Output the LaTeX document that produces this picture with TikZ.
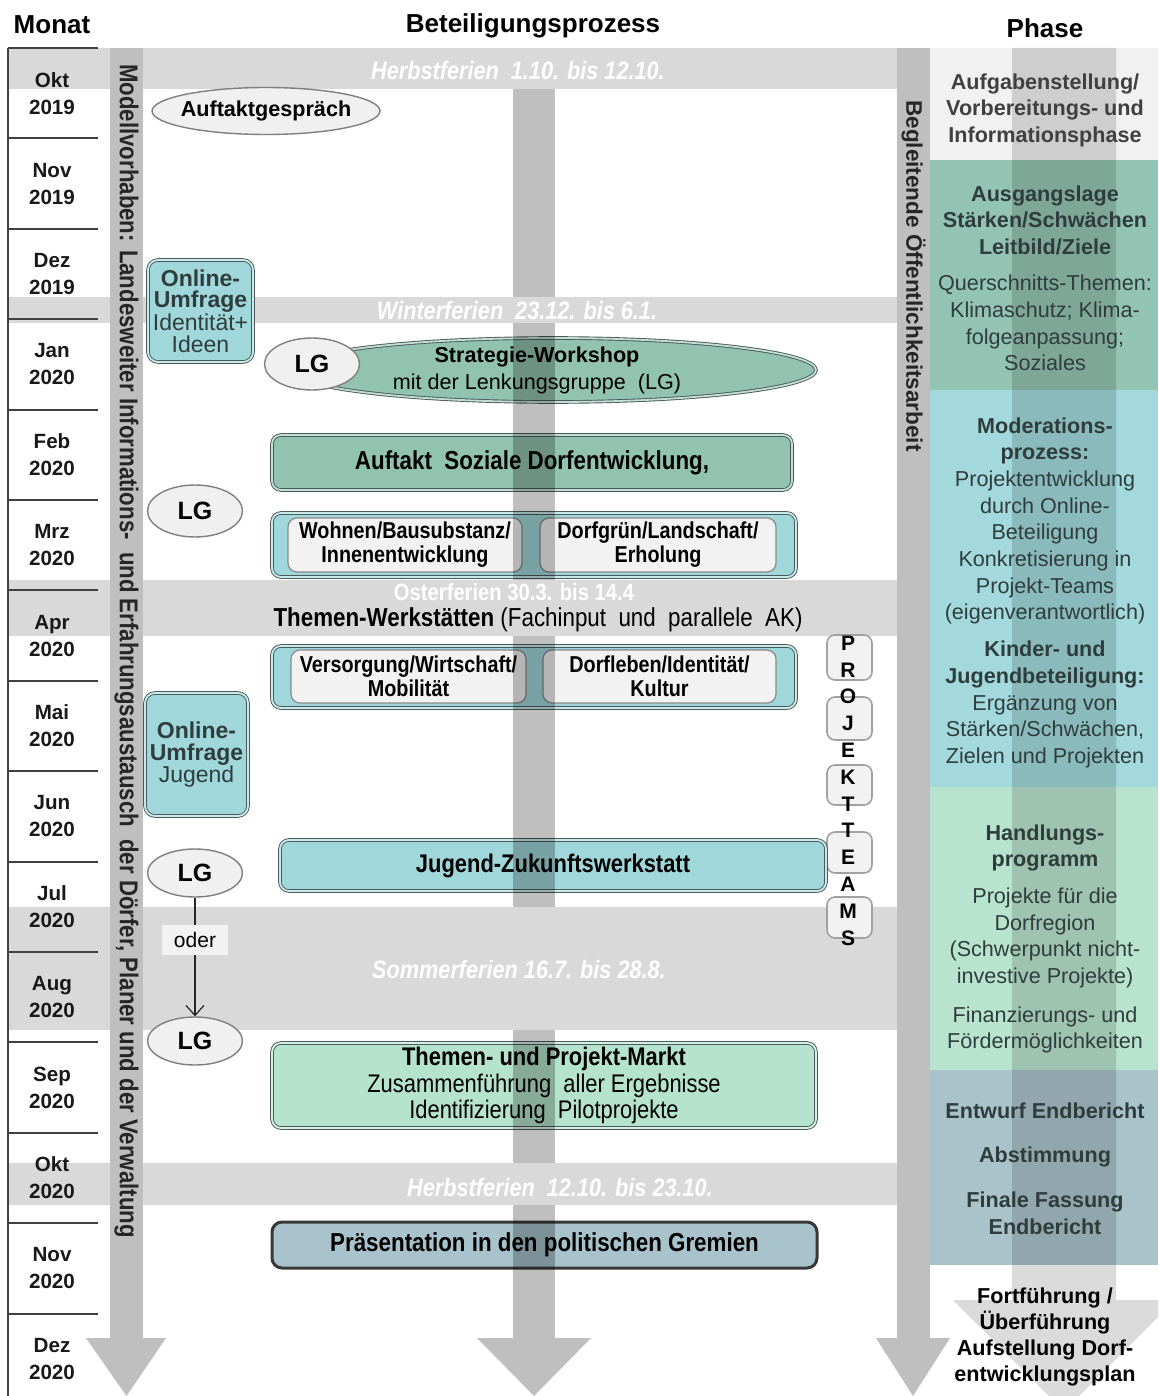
\documentclass[tikz,border=0pt]{standalone}
\usepackage{fontspec}
\setmainfont{Liberation Sans}
\newfontfamily\nrw[FakeStretch=0.86]{Liberation Sans}
\usetikzlibrary{shapes.geometric,arrows.meta}
\newcommand\myfs[2]{\fontsize{#1}{#2}\selectfont}
\definecolor{bandgray}{HTML}{D9D9D9}
\definecolor{colgray}{HTML}{BFBFBF}
\definecolor{ellfill}{HTML}{F0F0F0}
\definecolor{ellborder}{HTML}{7F7F7F}
\definecolor{tealgreen}{HTML}{92C3B1}
\definecolor{cyanfill}{HTML}{9FD7DA}
\definecolor{lightgreen}{HTML}{B6E3CD}
\definecolor{bluegray}{HTML}{A8C3CB}
\definecolor{boxborder}{HTML}{4A5A5A}
\definecolor{infill}{HTML}{F2F2F2}
\definecolor{inborder}{HTML}{8A8A8A}
\definecolor{phA}{HTML}{F1F1F1}
\definecolor{phB}{HTML}{93C3B2}
\definecolor{phC}{HTML}{A3D9DC}
\definecolor{phD}{HTML}{B8E4CF}
\definecolor{phE}{HTML}{AAC3CA}
\definecolor{phtext}{HTML}{2F3D3C}
\definecolor{mline}{HTML}{404040}
\begin{document}
\begin{tikzpicture}[x=0.5pt,y=-0.5pt,
  hdr/.style={font=\bfseries\myfs{13}{15}, inner sep=0pt},
  band/.style={fill=bandgray},
  colbar/.style={fill=colgray},
  midcol/.style={fill=black, opacity=0.25},
  phover/.style={fill=black, opacity=0.14},
  holtxt/.style={text=white, inner sep=0pt, font=\nrw\bfseries\itshape\myfs{12.6}{14}},
  monthlbl/.style={align=center, inner sep=0pt, text=black!90, font=\bfseries\myfs{10.3}{13.5}},
  monthline/.style={draw=mline, line width=1pt},
  phase/.style={align=center, anchor=north, inner sep=0pt, text=phtext, font=\myfs{10.8}{13.35}},
  lgell/.style={ellipse, draw=ellborder, fill=ellfill, line width=0.7pt, inner sep=0pt,
     minimum width=47.5pt, minimum height=26pt, font=\bfseries\myfs{12.5}{14}},
  dbl/.style={draw=boxborder, line width=0.45pt, double=#1!55!white, double distance=0.9pt,
     fill=#1, rounded corners=4.5pt, inner sep=0pt, align=center},
  inbox/.style={draw=inborder, fill=infill, rounded corners=4.5pt, line width=0.6pt,
     align=center, inner sep=0pt, font=\nrw\bfseries\myfs{11.5}{12}},
  ptbox/.style={draw=inborder!80, fill=infill, rounded corners=4pt, line width=0.8pt,
     minimum width=22.5pt, inner sep=0pt},
  ptletter/.style={inner sep=0pt, font=\bfseries\myfs{10.5}{12}},
  ortxt/.style={fill=infill, inner sep=0pt, minimum width=33pt, minimum height=15pt, font=\myfs{10.5}{12}}
]
\useasboundingbox (0,0) rectangle (1158,1396);
\fill[white] (0,0) rectangle (1158,1396);
\clip (0,0) rectangle (1158,1396);

% headers
\node[hdr] (hmonat) at (52,25) {Monat};
\node[hdr] (hbet) at (533,26) {Beteiligungsprozess};
\node[hdr] (hphase) at (1045,28) {Phase};

% holiday bands
\fill[band] (8,48) rectangle (930,89);
\fill[band] (8,297) rectangle (930,323);
\fill[band] (8,580) rectangle (930,636);
\fill[band] (8,907) rectangle (930,1030);
\fill[band] (8,1163) rectangle (930,1205);

\node[holtxt] (hf1) at (518,70) {Herbstferien\ \ 1.10. bis 12.10.};
\node[holtxt] (wf) at (517,310) {Winterferien\ \ 23.12. bis 6.1.};
\node[holtxt, font=\nrw\bfseries\myfs{11.75}{13}] (of) at (514,592) {Osterferien 30.3. bis 14.4};
\node[holtxt] (sf) at (519,969) {Sommerferien 16.7. bis 28.8.};
\node[holtxt] (hf2) at (560,1187) {Herbstferien\ \ 12.10. bis 23.10.};

% side columns
\fill[colbar] (110,48) rectangle (143,1338);
\fill[colbar] (86,1338) -- (166,1338) -- (126.5,1396) -- cycle;
\fill[colbar] (897,48) rectangle (930,1338);
\fill[colbar] (876,1338) -- (950,1338) -- (913,1396) -- cycle;

% phase column
\fill[phA] (930,48) rectangle (1158,160);
\fill[phB] (930,160) rectangle (1158,390);
\fill[phC] (930,390) rectangle (1158,787);
\fill[phD] (930,787) rectangle (1158,1070);
\fill[phE] (930,1070) rectangle (1158,1265);
\fill[phover] (1012,48) -- (1116,48) -- (1116,1300) -- (1175,1300) -- (1064,1411)
   -- (953,1300) -- (1012,1300) -- cycle;

\node[phase, text=black!75] (phA) at (1045,73)
  {\textbf{Aufgabenstellung/}\\\textbf{Vorbereitungs- und}\\\textbf{Informationsphase}};
\node[phase] (phB) at (1045,185)
  {\textbf{Ausgangslage}\\\textbf{Stärken/Schwächen}\\\textbf{Leitbild/Ziele}\\[4.75pt]
   Querschnitts-Themen:\\Klimaschutz; Klima-\\folgeanpassung;\\Soziales};
\node[phase] (phC) at (1045,417)
  {\textbf{Moderations-}\\\textbf{prozess:}\\Projektentwicklung\\durch Online-\\Beteiligung\\
   Konkretisierung in\\Projekt-Teams\\(eigenverantwortlich)\\[5pt]
   \textbf{Kinder- und}\\\textbf{Jugendbeteiligung:}\\Ergänzung von\\Stärken/Schwächen,\\Zielen und Projekten};
\node[phase] (phD) at (1045,824)
  {\textbf{Handlungs-}\\\textbf{programm}\\[5pt]Projekte für die\\Dorfregion\\(Schwerpunkt nicht-\\
   investive Projekte)\\[6pt]Finanzierungs- und\\Fördermöglichkeiten};
\node[phase] (phE) at (1045,1102)
  {\textbf{Entwurf Endbericht}\\[9pt]\textbf{Abstimmung}\\[9pt]\textbf{Finale Fassung}\\\textbf{Endbericht}};
\node[phase, text=black, font=\bfseries\myfs{10.8}{13.15}] (phF) at (1045,1287)
  {Fortführung /\\Überführung\\Aufstellung Dorf-\\entwicklungsplan};

% month column
\draw[monthline] (8,48) -- (8,1396);
\foreach \i in {0,...,14} \draw[monthline] (8,{48+90.4*\i}) -- (98,{48+90.4*\i});
\foreach \mo/\yr [count=\i from 0] in {Okt/2019,Nov/2019,Dez/2019,Jan/2020,Feb/2020,Mrz/2020,
   Apr/2020,Mai/2020,Jun/2020,Jul/2020,Aug/2020,Sep/2020,Okt/2020,Nov/2020,Dez/2020}
  \node[monthlbl] (m\i) at (52,{93.2+90.4*\i}) {\mo\\\yr};

% process nodes
\node[ellipse, draw=ellborder, fill=ellfill, line width=0.7pt, inner xsep=-3pt, inner ysep=0pt,
   minimum width=114pt, minimum height=23.5pt, font=\bfseries\myfs{10.8}{12}] (auftakt) at (266,111) {Auftaktgespräch};

\node[dbl=cyanfill, rounded corners=5pt, minimum width=52.5pt, minimum height=51pt, text=phtext,
   font=\myfs{11.5}{10.65}] (ou1) at (200.5,311)
   {\textbf{Online-}\\\textbf{Umfrage}\\Identität+\\Ideen};

\node[ellipse, dbl=tealgreen, minimum width=263pt, minimum height=32pt] (sw) at (553,370) {};
\node[align=center, inner sep=0pt, font=\myfs{10.8}{13.5}] (swt) at (537,370)
   {\textbf{Strategie-Workshop}\\mit der Lenkungsgruppe\ \ (LG)};
\node[lgell] (lg1) at (312,364) {LG};

\node[dbl=tealgreen, minimum width=260pt, minimum height=27.5pt,
   font=\nrw\bfseries\myfs{13}{14}] (asd) at (532,462.5) {Auftakt\ \ Soziale Dorfentwicklung,};

\node[lgell] (lg2) at (195,511) {LG};

\node[dbl=cyanfill, minimum width=262pt, minimum height=32pt] (tw1) at (534,545) {};
\node[inbox, minimum width=117pt, minimum height=27pt] (tw1a) at (405,545) {Wohnen/Bausubstanz/\\Innenentwicklung};
\node[inbox, minimum width=118pt, minimum height=27pt] (tw1b) at (658,545) {Dorfgrün/Landschaft/\\Erholung};

\node[inner sep=0pt, font=\nrw\myfs{13}{14}] (twt) at (538,620)
   {\textbf{Themen-Werkstätten} (Fachinput\ \ und\ \ parallele\ \ AK)};

\node[dbl=cyanfill, minimum width=262pt, minimum height=31pt] (tw2) at (534,677) {};
\node[inbox, minimum width=117.5pt, minimum height=26.5pt] (tw2a) at (408.5,676.5) {Versorgung/Wirtschaft/\\Mobilität};
\node[inbox, minimum width=116.5pt, minimum height=26.5pt] (tw2b) at (659.5,676.5) {Dorfleben/Identität/\\Kultur};

\node[dbl=cyanfill, rounded corners=5pt, minimum width=51.5pt, minimum height=61.5pt, text=phtext,
   font=\myfs{11.5}{10.8}] (ou2) at (196.5,754.5)
   {\textbf{Online-}\\\textbf{Umfrage}\\Jugend};

% PROJEKTTEAMS
\node[ptbox, minimum height=22.5pt] (pb1) at (849.5,657.5) {};
\node[ptbox, minimum height=21.5pt] (pb2) at (849.5,718.5) {};
\node[ptbox, minimum height=20pt] (pb3) at (849.5,785) {};
\node[ptbox, minimum height=20.5pt] (pb4) at (849.5,852.5) {};
\node[ptbox, minimum height=20.5pt] (pb5) at (849.5,917.5) {};
\foreach \c [count=\i from 0] in {P,R,O,J,E,K,T,T,E,A,M,S}
  \node[ptletter] (pt\i) at (848,{643+26.8*\i}) {\c};

\node[dbl=cyanfill, minimum width=273pt, minimum height=25.5pt,
   font=\nrw\bfseries\myfs{12.75}{14}] (jzw) at (553,865.5) {Jugend-Zukunftswerkstatt};

\node[lgell, minimum height=24pt] (lg3) at (195,873) {LG};
\node[lgell, minimum height=24pt] (lg4) at (195,1041) {LG};
\draw[draw=black!85, line width=0.6pt, -{Straight Barb[length=5pt,width=9pt]}]
   (lg3) -- node[ortxt, pos=0.36] (oder) {oder} (lg4);

\node[dbl=lightgreen, minimum width=272pt, minimum height=42.5pt,
   font=\nrw\myfs{12.75}{13.25}] (tpm) at (544,1085.5)
   {\textbf{Themen- und Projekt-Markt}\\Zusammenführung\ \ aller Ergebnisse\\Identifizierung\ \ Pilotprojekte};

\node[draw=black!78, line width=1.5pt, fill=bluegray, rounded corners=5pt, inner sep=0pt,
   minimum width=272.5pt, minimum height=23pt, font=\nrw\bfseries\myfs{13}{14}] (pres) at (544.5,1245)
   {Präsentation in den politischen Gremien};

% middle column overlay
\fill[midcol] (513,89) rectangle (555,297);
\fill[midcol] (513,323) rectangle (555,580);
\fill[midcol] (513,636) rectangle (555,907);
\fill[midcol] (513,1030) rectangle (555,1163);
\fill[midcol] (513,1205) rectangle (555,1338);
\fill[midcol] (477,1338) -- (591,1338) -- (534,1396) -- cycle;

% column texts
\node[rotate=-90, inner sep=0pt, text=black!85, font=\nrw\bfseries\myfs{12.9}{15}] (lcol) at (126.5,651)
   {Modellvorhaben: Landesweiter Informations-\ \ und Erfahrungsaustausch\ \ der Dörfer, Planer und der Verwaltung};
\node[rotate=-90, inner sep=0pt, text=black!85, font=\bfseries\myfs{11.25}{13}] (rcol) at (913.5,276)
   {Begleitende Öffentlichkeitsarbeit};
\end{tikzpicture}
\end{document}
